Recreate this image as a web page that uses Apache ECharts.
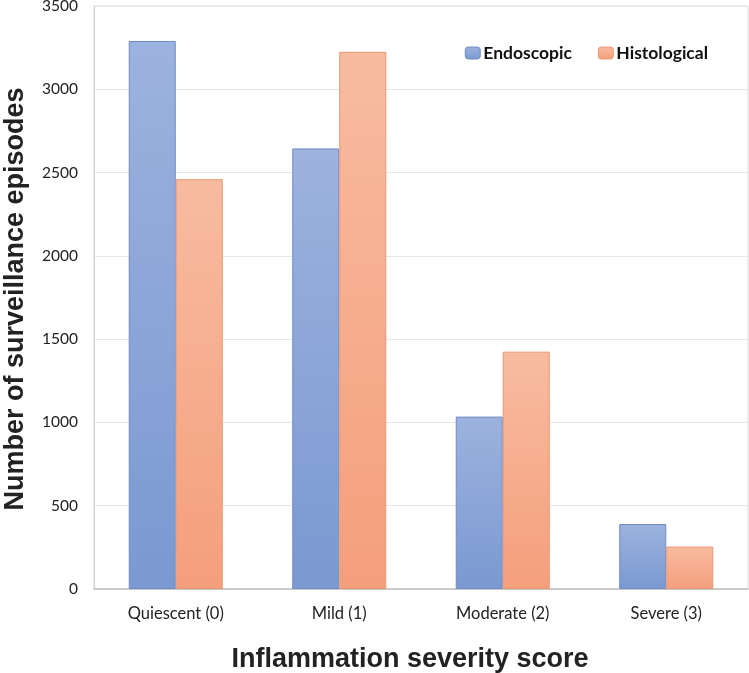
<!DOCTYPE html>
<html><head><meta charset="utf-8">
<script src="https://cdn.jsdelivr.net/npm/echarts@6/dist/echarts.min.js"></script>
<style>html,body{margin:0;padding:0;background:#fff}#c{width:749px;height:673px}</style>
</head><body><div id="c"></div>
<script>
const categories = ['Quiescent (0)', 'Mild (1)', 'Moderate (2)', 'Severe (3)'];
const endoscopic = [3290, 2645, 1035, 390];
const histological = [2460, 3225, 1425, 255];
const seriesNames = ['Endoscopic', 'Histological'];
const yTitle = 'Number of surveillance episodes';
const xTitle = 'Inflammation severity score';

const chart = echarts.init(document.getElementById('c'));
const grad = (a, b) => new echarts.graphic.LinearGradient(0, 0, 0, 1, [{offset: 0, color: a}, {offset: 1, color: b}]);
const titleFont = {fontFamily: 'Liberation Sans, Arial, sans-serif', fontWeight: 'bold', fill: '#222'};
chart.setOption({
  animation: false,
  grid: {left: 94, right: 1, top: 6, bottom: 84, show: true, borderColor: '#dadada', borderWidth: 1,
         containLabel: false, outerBoundsMode: 'none'},
  legend: {
    data: seriesNames, right: 36, top: 39, itemWidth: 15, itemHeight: 12, itemGap: 26,
    itemStyle: {borderWidth: 1},
    textStyle: {fontFamily: 'Lato, sans-serif', fontWeight: 'bold', fontSize: 17.5, color: '#111', padding: [0, 0, 0, -2]}
  },
  graphic: [
    {type: 'text', x: 410, y: 660,
     style: Object.assign({text: xTitle, fontSize: 27, align: 'center', verticalAlign: 'middle'}, titleFont)},
    {type: 'text', x: 16, y: 299, rotation: Math.PI / 2,
     style: Object.assign({text: yTitle, fontSize: 27, align: 'center', verticalAlign: 'middle'}, titleFont)}
  ],
  xAxis: {
    type: 'category', data: categories,
    axisLine: {lineStyle: {color: '#bfbfbf', width: 1.5}},
    axisTick: {show: false},
    axisLabel: {fontFamily: 'Lato, sans-serif', fontSize: 16.5, color: '#222', margin: 16}
  },
  yAxis: {
    type: 'value', min: 0, max: 3500, interval: 500,
    axisLine: {show: true, lineStyle: {color: '#d0d0d0'}},
    axisTick: {show: false},
    splitLine: {lineStyle: {color: '#e6e6e6'}},
    axisLabel: {fontFamily: 'Lato, sans-serif', fontSize: 15.5, color: '#222', margin: 16, formatter: v => String(v)}
  },
  series: [
    {name: seriesNames[0], type: 'bar', data: endoscopic, barGap: '0%', barCategoryGap: '42.5%',
     itemStyle: {color: grad('#9db2de', '#7a99d1'), borderColor: '#6f8cc6', borderWidth: 1}},
    {name: seriesNames[1], type: 'bar', data: histological,
     itemStyle: {color: grad('#f8bba0', '#f49f7c'), borderColor: '#ec9670', borderWidth: 1}}
  ]
});
</script></body></html>
